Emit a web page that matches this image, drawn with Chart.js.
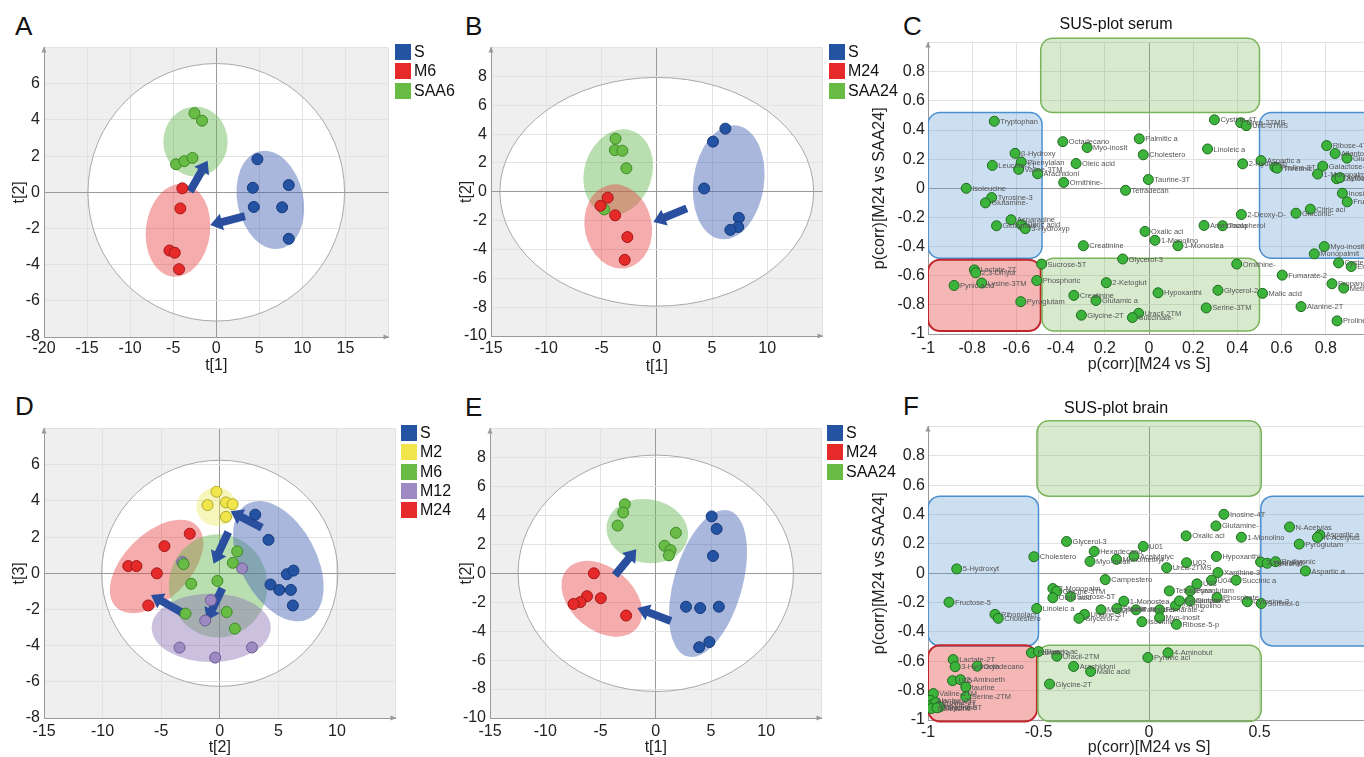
<!DOCTYPE html>
<html>
<head>
<meta charset="utf-8">
<script src="https://cdn.jsdelivr.net/npm/chart.js@4.4.1/dist/chart.umd.min.js"></script>
<style>
html, body { margin: 0; padding: 0; background: #fff; overflow: hidden; width: 1364px; height: 757px; }
body { position: relative; font-family: "Liberation Sans", Arial, sans-serif; color: #111; }
canvas { position: absolute; }
.letter { position: absolute; font-size: 26px; line-height: 26px; }
.legend { position: absolute; font-size: 16px; }
.legend div { height: 19.3px; line-height: 19px; white-space: nowrap; }
.legend span { display: inline-block; width: 16px; height: 16px; vertical-align: -3px; margin-right: 3px; }
</style>
</head>
<body>

<div class="letter" style="left:15px;top:13px">A</div>
<div class="letter" style="left:465px;top:13px">B</div>
<div class="letter" style="left:903px;top:13px">C</div>
<div class="letter" style="left:15px;top:393px">D</div>
<div class="letter" style="left:465px;top:394px">E</div>
<div class="letter" style="left:903px;top:393px">F</div>

<canvas id="chartA" width="395" height="346" style="left:0px;top:34px"></canvas>
<canvas id="chartB" width="379" height="346" style="left:450px;top:34px"></canvas>
<canvas id="chartC" width="574" height="365" style="left:862px;top:15px"></canvas>
<canvas id="chartD" width="402" height="345" style="left:0px;top:415px"></canvas>
<canvas id="chartE" width="378" height="345" style="left:450px;top:415px"></canvas>
<canvas id="chartF" width="574" height="361" style="left:862px;top:399px"></canvas>

<div class="legend" id="legA" style="left:395px;top:42px"></div>
<div class="legend" id="legB" style="left:829px;top:42px"></div>
<div class="legend" id="legD" style="left:401px;top:423px"></div>
<div class="legend" id="legE" style="left:827px;top:423px"></div>

<script>
// ---------- data: PCA score plots ----------
// A: serum, S / M6 / SAA6  (t[1], t[2])
const aS    = [[4.78, 1.83], [4.25, 0.25], [8.42, 0.40], [4.36, -0.81], [7.65, -0.83], [8.42, -2.57]];
const aM6   = [[-3.94, 0.22], [-4.17, -0.89], [-5.43, -3.22], [-4.82, -3.34], [-4.32, -4.25]];
const aSAA6 = [[-2.53, 4.37], [-1.65, 3.96], [-4.67, 1.55], [-3.71, 1.72], [-2.76, 1.90]];

// B: serum, S / M24 / SAA24
const bS     = [[6.21, 4.38], [5.09, 3.48], [4.29, 0.23], [7.43, -1.81], [7.37, -2.44], [6.66, -2.64]];
const bM24   = [[-4.44, -0.41], [-5.09, -0.97], [-3.76, -1.63], [-2.66, -3.14], [-2.90, -4.72]];
const bSAA24 = [[-3.73, 3.68], [-3.79, 2.89], [-3.11, 2.85], [-2.75, 1.63], [-4.76, -1.22]];

// D: brain, S / M2 / M6 / M12 / M24  (t[2], t[3])
const dS   = [[3.03, 3.24], [4.16, 1.85], [5.73, -0.05], [6.29, 0.15], [4.33, -0.62], [5.08, -0.92], [6.07, -0.92], [6.24, -1.78]];
const dM2  = [[-0.28, 4.51], [-1.04, 3.77], [0.53, 3.92], [1.10, 3.82], [0.53, 3.12]];
const dM6  = [[1.49, 1.21], [1.12, 0.58], [-3.09, 0.51], [-2.44, -0.58], [-0.20, -0.42], [-2.92, -2.23], [0.59, -2.14], [1.29, -3.06]];
const dM12 = [[-3.20, 0.62], [1.91, 0.27], [-0.76, -1.49], [-1.24, -2.61], [-3.43, -4.11], [-0.39, -4.66], [2.75, -4.10]];
const dM24 = [[-2.56, 2.19], [-4.72, 1.50], [-7.81, 0.40], [-7.11, 0.40], [-5.37, 0.00], [-6.10, -1.78]];

// E: brain, S / M24 / SAA24  (t[1], t[2])
const eS     = [[5.06, 3.93], [5.51, 3.07], [5.18, 1.20], [2.74, -2.31], [4.02, -2.40], [5.71, -2.31], [4.85, -4.75], [3.93, -5.11]];
const eM24   = [[-5.60, 0.00], [-6.22, -1.58], [-6.82, -1.99], [-7.44, -2.12], [-4.97, -1.72], [-2.68, -2.92]];
const eSAA24 = [[-2.80, 4.77], [-2.95, 4.20], [-3.45, 3.30], [1.82, 2.80], [0.80, 1.90], [1.34, 1.60], [1.19, 1.24]];

// arrows between group centres (tail, head)
const arrowsA = [[[3.33, -1.32], [-0.69, -1.81]], [[-3.06, 0.04], [-1.00, 1.75]]];
const arrowsB = [[[2.72, -1.15], [-0.30, -2.10]]];
const arrowsD = [[[3.60, 2.52], [0.93, 3.43]], [[0.73, 2.28], [-0.53, 0.53]], [[0.22, -0.83], [-1.10, -2.61]], [[-3.15, -2.19], [-5.87, -1.20]]];
const arrowsE = [[[-3.69, -0.14], [-1.76, 1.67]], [[1.37, -3.30], [-1.67, -2.40]]];

// ---------- data: SUS plots ----------
const serumNames = ['Tryptophan', 'Octadecano', 'Myo-inosit', 'Palmitic a', 'Cholestero', 'Cystine-4T', 'Urea-2TMS', 'Uric-5TMS',
  'Linoleic a', 'β-Hydroxy', 'Phenylalan', 'Leucine-2T', 'Valine-3TM', 'Arachidoni', 'Oleic acid', 'Ornithine-', 'Taurine-3T',
  'Tetradecan', '2-Hydroxyb', 'Aspartic a', 'Proline-3T', 'Threonic', 'Isoleucine', 'Tyrosine-3', 'Glutamine-', 'Asparagine',
  'Glutamate', 'Citric acid', '3-Hydroxyp', '2-Deoxy-D-', 'Aminomalo', 'Tocopherol', 'Oxalic aci', '1-Monolino', '1-Monostea',
  'Creatinine', 'Glycerol-3', 'Sucrose-5T', 'Ornithine-', 'Lactate-2T', '2,3-Dihydr', 'Pynic acid', 'Lysine-3TM', 'Phosphoric',
  '2-Ketoglut', 'Creatinine', 'Glutamic a', 'Pyroglutam', 'Hypoxanthi', 'Glycerol-2', 'Glycine-2T', 'Uracil-2TM', 'Succinate-',
  'Serine-3TM', 'Fumarate-2', 'Malic acid', 'Alanine-2T', 'Proline-2T', 'Ribose-4TM', 'Allantoin-', 'Glucuronic', 'Galactose-',
  '1-Monopalm', 'Lactose', 'Xylitol', 'Inositol', 'Fructose-5', 'Citric aci', 'Gluconic-', 'Myo-inosit', 'Monopalmit',
  'Cysteine-3', 'Erythritol', 'Propanoic', 'Methionine'];
const serumX = [-0.70, -0.39, -0.28, -0.044, -0.026, 0.296, 0.415, 0.44,
  0.265, -0.606, -0.578, -0.709, -0.59, -0.504, -0.33, -0.386, -0.003,
  -0.106, 0.424, 0.507, 0.57, 0.58, -0.827, -0.712, -0.74, -0.624,
  -0.69, -0.578, -0.56, 0.418, 0.249, 0.333, -0.018, 0.027, 0.131,
  -0.297, -0.119, -0.486, 0.397, -0.79, -0.784, -0.882, -0.757, -0.508,
  -0.193, -0.34, -0.24, -0.58, 0.041, 0.312, -0.306, -0.047, -0.075,
  0.259, 0.603, 0.514, 0.688, 0.851, 0.804, 0.842, 0.896, 0.786,
  0.763, 0.849, 0.864, 0.875, 0.897, 0.73, 0.665, 0.793, 0.748,
  0.858, 0.915, 0.828, 0.881];
const serumY = [0.46, 0.32, 0.28, 0.34, 0.23, 0.47, 0.45, 0.43,
  0.27, 0.24, 0.18, 0.157, 0.13, 0.10, 0.17, 0.04, 0.06,
  -0.014, 0.168, 0.19, 0.145, 0.138, 0.0, -0.064, -0.10, -0.216,
  -0.257, -0.25, -0.277, -0.18, -0.255, -0.257, -0.296, -0.357, -0.394,
  -0.394, -0.485, -0.52, -0.52, -0.56, -0.58, -0.667, -0.65, -0.633,
  -0.648, -0.735, -0.77, -0.778, -0.717, -0.70, -0.871, -0.858, -0.887,
  -0.821, -0.596, -0.721, -0.812, -0.91, 0.293, 0.239, 0.207, 0.152,
  0.098, 0.066, 0.073, -0.034, -0.093, -0.143, -0.171, -0.40, -0.45,
  -0.512, -0.537, -0.655, -0.685];

const brainNames = ['5-Hydroxyt', 'Fructose-5', 'Ribonolact', 'Cholestero', 'Cholestero', 'Glycerol-3', 'Hexadecano', 'Myo-inosit',
  'Monomethyl', 'Acetylglyc', 'U01', 'Campestero', '2-Monopalm', 'Glycine-3TM', 'Oleic acid', 'Sucrose-5T', 'Linoleic a',
  '1-Monostea', 'Uridine-3T', 'Glycerol-2', 'Monopalmit', 'Stearic ac', 'Palmitolei', 'Fumarate-2', 'Myo-inosit', 'Isocitric',
  'Ribose-5-p', '2-Aminolino', 'Glutamate', 'Tetradecan', 'Pyroglutam', 'Glutamine', 'U03', 'U04', 'Urea-2TMS', 'U02',
  'Oxalic aci', 'Glutamine-', 'Inosine-4T', '1-Monolino', 'Hypoxanthi', 'Xanthine-3', 'Succinic a', 'Phosphate', 'Cytosine-3',
  'Sorbitol-6', '3-Hydroxyb', 'Threonic', 'Erythronic', 'N-Acetylas', 'Aspartic a', 'N-Acetylas', 'Pyroglutam', 'Aspartic a',
  '4-Aminobut', 'Pyruvic aci', 'Palmitic a', 'Stearic ac', 'Uracil-2TM', 'Arachidoni', 'Malic acid', 'Glycine-2T', 'Lactate-2T',
  '3-Hydroxyb', 'Octadecano', 'U05', '2-Aminoeth', 'taurine', 'Serine-2TM', 'Valine-2TM', 'Alanine-2T', 'Leucine-2T',
  'Proline-2T', 'Glycine-3T', 'Isoleucine', 'Threonine'];
const brainX = [-0.87, -0.905, -0.697, -0.682, -0.521, -0.373, -0.248, -0.267,
  -0.147, -0.068, -0.026, -0.198, -0.435, -0.417, -0.435, -0.355, -0.508,
  -0.114, -0.292, -0.317, -0.217, -0.145, -0.059, 0.048, 0.048, -0.032,
  0.124, 0.12, 0.138, 0.092, 0.186, 0.186, 0.217, 0.283, 0.08, 0.17,
  0.168, 0.303, 0.339, 0.418, 0.305, 0.312, 0.394, 0.308, 0.445,
  0.508, 0.505, 0.535, 0.573, 0.636, 0.773, 0.762, 0.68, 0.708,
  0.086, -0.005, -0.532, -0.50, -0.417, -0.341, -0.264, -0.45, -0.886,
  -0.877, -0.777, -0.889, -0.853, -0.829, -0.829, -0.976, -0.989, -0.98,
  -0.965, -0.947, -0.985, -0.959];
const brainY = [0.03, -0.197, -0.28, -0.307, 0.113, 0.217, 0.149, 0.081,
  0.095, 0.117, 0.183, -0.043, -0.104, -0.122, -0.167, -0.158, -0.24,
  -0.19, -0.28, -0.307, -0.249, -0.24, -0.249, -0.249, -0.303, -0.33,
  -0.348, -0.221, -0.188, -0.12, -0.12, -0.188, -0.072, -0.047, 0.038, 0.072,
  0.255, 0.323, 0.402, 0.246, 0.115, 0.005, -0.047, -0.165, -0.194,
  -0.206, 0.077, 0.068, 0.079, 0.316, 0.262, 0.244, 0.199, 0.016,
  -0.542, -0.574, -0.542, -0.533, -0.565, -0.635, -0.669, -0.755, -0.588,
  -0.637, -0.633, -0.732, -0.725, -0.775, -0.84, -0.82, -0.866, -0.895,
  -0.881, -0.911, -0.922, -0.917];

// ---------- tick labels ----------
const ticksX20 = ['-20', '-15', '-10', '-5', '0', '5', '10', '15'];
const ticksX15 = ['-15', '-10', '-5', '0', '5', '10'];
const ticksY8 = ['-8', '-6', '-4', '-2', '0', '2', '4', '6'];
const ticksY10 = ['-10', '-8', '-6', '-4', '-2', '0', '2', '4', '6', '8'];
const ticksSerumX = ['-1', '-0.8', '-0.6', '-0.4', '0.2', '0', '0.2', '0.4', '0.6', '0.8'];
const ticksBrainX = ['-1', '-0.5', '0', '0.5'];
const ticksCorrY = ['-1', '-0.8', '-0.6', '-0.4', '-0.2', '0', '0.2', '0.4', '0.6', '0.8'];

// ---------- styles ----------
const FONT = '"Liberation Sans", Arial, sans-serif';
const PT = {
    S:   { fill: '#2453a4', line: '#17397a', area: 'rgba(72,101,180,0.47)' },
    RED: { fill: '#e62a2a', line: '#a31818', area: 'rgba(232,70,70,0.45)' },
    GRN: { fill: '#68bc45', line: '#3e8a28', area: 'rgba(100,185,80,0.45)' },
    YEL: { fill: '#f0e64c', line: '#b2aa2a', area: 'rgba(235,232,90,0.40)' },
    PUR: { fill: '#9d8ac2', line: '#6c5c92', area: 'rgba(140,115,180,0.45)' }
};
const ARROW = '#2a4f9f';

// overlays for every panel (shapes in data units)
const overlays = {
    chartA: {
        bg: '#efefef', hotelling: { cx: 0, cy: 0, rx: 14.9, ry: 7.12 }, arrows: arrowsA,
        ellipses: [
            { cx: -2.41, cy: 2.80, rx: 3.73, ry: 1.94, rot: 0, fill: PT.GRN.area },
            { cx: -4.44, cy: -2.10, rx: 3.73, ry: 2.58, rot: 7, fill: PT.RED.area },
            { cx: 6.28, cy: -0.42, rx: 3.83, ry: 2.75, rot: -12, fill: PT.S.area }
        ]
    },
    chartB: {
        bg: '#efefef', hotelling: { cx: 0, cy: 0, rx: 14.2, ry: 7.93 }, arrows: arrowsB,
        ellipses: [
            { cx: -3.49, cy: 1.36, rx: 3.06, ry: 3.03, rot: 18, fill: PT.GRN.area },
            { cx: -3.49, cy: -2.40, rx: 3.03, ry: 2.94, rot: -12, fill: PT.RED.area },
            { cx: 6.51, cy: 0.66, rx: 3.2, ry: 3.98, rot: 8, fill: PT.S.area }
        ]
    },
    chartD: {
        bg: '#efefef', hotelling: { cx: 0, cy: 0, rx: 10.08, ry: 6.25 }, arrows: arrowsD,
        ellipses: [
            { cx: -5.39, cy: 0.38, rx: 2.81, ry: 3.17, rot: 45, fill: PT.RED.area },
            { cx: -0.14, cy: -0.69, rx: 4.2, ry: 2.85, rot: 0, fill: PT.GRN.area },
            { cx: 5.0, cy: 0.67, rx: 3.23, ry: 3.6, rot: -28, fill: PT.S.area },
            { cx: -0.73, cy: -3.01, rx: 5.08, ry: 1.9, rot: 0, fill: PT.PUR.area },
            { cx: -0.28, cy: 3.68, rx: 1.71, ry: 1.07, rot: 0, fill: PT.YEL.area }
        ]
    },
    chartE: {
        bg: '#efefef', hotelling: { cx: 0, cy: 0, rx: 12.46, ry: 8.17 }, arrows: arrowsE,
        ellipses: [
            { cx: -0.77, cy: 2.92, rx: 3.72, ry: 2.2, rot: 10, fill: PT.GRN.area },
            { cx: -4.88, cy: -1.76, rx: 2.83, ry: 3.16, rot: -50, fill: PT.RED.area },
            { cx: 4.73, cy: -0.70, rx: 3.1, ry: 5.24, rot: 16, fill: PT.S.area }
        ]
    },
    chartC: {
        names: serumNames,
        boxes: [
            { x0: -0.49, x1: 0.50, y0: 0.52, y1: 1.03, kind: 'green' },
            { x0: -1.0, x1: -0.484, y0: -0.48, y1: 0.52, kind: 'blue' },
            { x0: 0.50, x1: 1.06, y0: -0.48, y1: 0.52, kind: 'blue' },
            { x0: -1.0, x1: -0.49, y0: -0.98, y1: -0.49, kind: 'red' },
            { x0: -0.484, x1: 0.50, y0: -0.98, y1: -0.48, kind: 'green' }
        ]
    },
    chartF: {
        names: brainNames,
        boxes: [
            { x0: -0.507, x1: 0.508, y0: 0.526, y1: 1.04, kind: 'green' },
            { x0: -1.0, x1: -0.5, y0: -0.495, y1: 0.526, kind: 'blue' },
            { x0: 0.506, x1: 1.06, y0: -0.495, y1: 0.526, kind: 'blue' },
            { x0: -1.0, x1: -0.507, y0: -1.01, y1: -0.49, kind: 'red' },
            { x0: -0.503, x1: 0.508, y0: -1.01, y1: -0.49, kind: 'green' }
        ]
    }
};
const BOX = {
    green: { fill: 'rgba(112,178,80,0.28)', line: '#7ab35a' },
    blue:  { fill: 'rgba(95,155,212,0.32)', line: '#4a8fd0' },
    red:   { fill: 'rgba(232,80,80,0.42)', line: '#c0262b' }
};

// ---------- drawing helpers ----------
function ellipsePath(ctx, x, y, e) {
    const cx = x.getPixelForValue(e.cx), cy = y.getPixelForValue(e.cy);
    const rx = Math.abs(x.getPixelForValue(e.cx + e.rx) - cx);
    const ry = Math.abs(y.getPixelForValue(e.cy + e.ry) - cy);
    ctx.beginPath();
    ctx.ellipse(cx, cy, rx, ry, (e.rot || 0) * Math.PI / 180, 0, Math.PI * 2);
}

function drawArrow(ctx, x, y, a) {
    const x1 = x.getPixelForValue(a[0][0]), y1 = y.getPixelForValue(a[0][1]);
    const x2 = x.getPixelForValue(a[1][0]), y2 = y.getPixelForValue(a[1][1]);
    const len = Math.hypot(x2 - x1, y2 - y1);
    const sw = 4, hw = 8.5, hl = 12;
    ctx.save();
    ctx.translate(x1, y1);
    ctx.rotate(Math.atan2(y2 - y1, x2 - x1));
    ctx.beginPath();
    ctx.moveTo(0, -sw); ctx.lineTo(len - hl, -sw); ctx.lineTo(len - hl, -hw);
    ctx.lineTo(len, 0); ctx.lineTo(len - hl, hw); ctx.lineTo(len - hl, sw); ctx.lineTo(0, sw);
    ctx.closePath();
    ctx.fillStyle = ARROW;
    ctx.fill();
    ctx.restore();
}

const overlayPlugin = {
    id: 'overlay',
    beforeDraw(chart) {
        const o = overlays[chart.canvas.id];
        if (!o) return;
        const { ctx, chartArea: a, scales: { x, y } } = chart;
        ctx.save();
        ctx.fillStyle = o.bg || '#fff';
        ctx.fillRect(a.left, a.top, a.right - a.left, a.bottom - a.top);
        if (o.hotelling) {
            ellipsePath(ctx, x, y, o.hotelling);
            ctx.fillStyle = '#fff';
            ctx.fill();
        }
        ctx.restore();
    },
    beforeDatasetsDraw(chart) {
        const o = overlays[chart.canvas.id];
        if (!o) return;
        const { ctx, chartArea: a, scales: { x, y } } = chart;
        ctx.save();
        ctx.beginPath();
        ctx.rect(a.left, a.top - 10, a.right - a.left + 20, a.bottom - a.top + 14);
        ctx.clip();
        if (o.hotelling) {
            ellipsePath(ctx, x, y, o.hotelling);
            ctx.strokeStyle = '#a9a9a9';
            ctx.lineWidth = 1;
            ctx.stroke();
        }
        (o.boxes || []).forEach(b => {
            const px0 = x.getPixelForValue(b.x0), px1 = x.getPixelForValue(b.x1);
            const py0 = y.getPixelForValue(b.y1), py1 = y.getPixelForValue(b.y0);
            ctx.beginPath();
            ctx.roundRect(px0, py0, px1 - px0, py1 - py0, 12);
            ctx.fillStyle = BOX[b.kind].fill;
            ctx.fill();
            ctx.strokeStyle = BOX[b.kind].line;
            ctx.lineWidth = b.kind === 'red' ? 2 : 1.5;
            ctx.stroke();
        });
        (o.ellipses || []).forEach(e => {
            ellipsePath(ctx, x, y, e);
            ctx.fillStyle = e.fill;
            ctx.fill();
        });
        (o.arrows || []).forEach(ar => drawArrow(ctx, x, y, ar));
        ctx.restore();
    },
    afterDatasetsDraw(chart) {
        const o = overlays[chart.canvas.id];
        if (!o || !o.names) return;
        const { ctx } = chart;
        const pts = chart.getDatasetMeta(0).data;
        ctx.save();
        ctx.font = '7.5px ' + FONT;
        ctx.fillStyle = '#555';
        ctx.textBaseline = 'middle';
        pts.forEach((p, i) => ctx.fillText(o.names[i], p.x + 6, p.y + 0.5));
        ctx.restore();
    },
    afterDraw(chart) {
        const { ctx, chartArea: a } = chart;
        ctx.save();
        ctx.fillStyle = '#9a9a9a';
        ctx.beginPath();
        ctx.moveTo(a.left - 2.5, a.top + 5); ctx.lineTo(a.left, a.top - 1); ctx.lineTo(a.left + 2.5, a.top + 5);
        ctx.fill();
        ctx.beginPath();
        ctx.moveTo(a.right - 5, a.bottom - 2.5); ctx.lineTo(a.right + 1, a.bottom); ctx.lineTo(a.right - 5, a.bottom + 2.5);
        ctx.fill();
        ctx.restore();
    }
};
Chart.register(overlayPlugin);

function axis(ax, kind) {
    return {
        type: 'linear',
        position: kind === 'x' ? 'bottom' : 'left',
        min: ax.min,
        max: ax.max,
        afterFit: s => { if (kind === 'x') s.height = ax.size; else s.width = ax.size; },
        ticks: {
            stepSize: ax.step, autoSkip: false, maxRotation: 0, padding: ax.tickPad,
            color: '#222', font: { size: 16, family: FONT },
            callback: (v, i) => ax.labels[i] !== undefined ? ax.labels[i] : ''
        },
        grid: {
            drawTicks: false, lineWidth: 1,
            color: c => (c.tick && Math.abs(c.tick.value) < 1e-9) ? '#9a9a9a' : '#e2e2e2'
        },
        border: { color: '#9a9a9a' },
        title: {
            display: true, text: ax.title, color: '#222', font: { size: 16, family: FONT },
            padding: kind === 'x' ? { top: 0, bottom: ax.titlePad } : { top: ax.titlePad, bottom: 0 }
        }
    };
}

function makeChart(id, p) {
    new Chart(document.getElementById(id), {
        type: 'scatter',
        data: {
            datasets: p.sets.map(s => ({
                data: s.pts.map(q => ({ x: q[0], y: q[1] })),
                backgroundColor: s.style.fill,
                borderColor: s.style.line,
                borderWidth: 1,
                pointRadius: p.r,
                pointHoverRadius: p.r
            }))
        },
        options: {
            responsive: false,
            animation: false,
            devicePixelRatio: 1,
            layout: { padding: { top: p.padTop, right: p.padRight, left: 0, bottom: 0 } },
            plugins: {
                legend: { display: false },
                tooltip: { enabled: false },
                title: p.title
                    ? { display: true, text: p.title, color: '#111', font: { size: 16, family: FONT, weight: 'normal' }, padding: { top: 0, bottom: 8.4 } }
                    : { display: false }
            },
            scales: { x: axis(p.x, 'x'), y: axis(p.y, 'y') }
        }
    });
}

function zipXY(xs, ys) { return xs.map((v, i) => [v, ys[i]]); }

makeChart('chartA', {
    r: 5.5, padTop: 8, padRight: 2,
    sets: [{ pts: aS, style: PT.S }, { pts: aM6, style: PT.RED }, { pts: aSAA6, style: PT.GRN }],
    x: { min: -20, max: 20, step: 5, labels: ticksX20, size: 43, tickPad: 2.4, title: 't[1]', titlePad: 4.4 },
    y: { min: -8, max: 8, step: 2, labels: ticksY8, size: 44, tickPad: 4, title: 't[2]', titlePad: 10.4 }
});
makeChart('chartB', {
    r: 5.5, padTop: 8, padRight: 2,
    sets: [{ pts: bS, style: PT.S }, { pts: bM24, style: PT.RED }, { pts: bSAA24, style: PT.GRN }],
    x: { min: -15, max: 15, step: 5, labels: ticksX15, size: 44, tickPad: 3.4, title: 't[1]', titlePad: 3.4 },
    y: { min: -10, max: 10, step: 2, labels: ticksY10, size: 41, tickPad: 4, title: 't[2]', titlePad: 7.4 }
});
makeChart('chartC', {
    r: 5, padTop: 0, padRight: 66, title: 'SUS-plot serum',
    sets: [{ pts: zipXY(serumX, serumY), style: { fill: '#3cb43c', line: '#1f6a1f' } }],
    x: { min: -1, max: 1, step: 0.2, labels: ticksSerumX, size: 46, tickPad: 5.4, title: 'p(corr)[M24 vs S]', titlePad: 5.4 },
    y: { min: -1, max: 1, step: 0.2, labels: ticksCorrY, size: 66, tickPad: 3, title: 'p(corr)[M24 vs SAA24]', titlePad: 8.4 }
});
makeChart('chartD', {
    r: 5.5, padTop: 8, padRight: 2,
    sets: [{ pts: dS, style: PT.S }, { pts: dM2, style: PT.YEL }, { pts: dM6, style: PT.GRN },
           { pts: dM12, style: PT.PUR }, { pts: dM24, style: PT.RED }],
    x: { min: -15, max: 15, step: 5, labels: ticksX15, size: 42, tickPad: 4.4, title: 't[2]', titlePad: 2.4 },
    y: { min: -8, max: 8, step: 2, labels: ticksY8, size: 44, tickPad: 4, title: 't[3]', titlePad: 10.4 }
});
makeChart('chartE', {
    r: 5.5, padTop: 8, padRight: 2,
    sets: [{ pts: eS, style: PT.S }, { pts: eM24, style: PT.RED }, { pts: eSAA24, style: PT.GRN }],
    x: { min: -15, max: 15, step: 5, labels: ticksX15, size: 42, tickPad: 4.1, title: 't[1]', titlePad: 2.7 },
    y: { min: -10, max: 10, step: 2, labels: ticksY10, size: 40, tickPad: 4, title: 't[2]', titlePad: 7.4 }
});
makeChart('chartF', {
    r: 5, padTop: 0, padRight: 66, title: 'SUS-plot brain',
    sets: [{ pts: zipXY(brainX, brainY), style: { fill: '#3cb43c', line: '#1f6a1f' } }],
    x: { min: -1, max: 1, step: 0.5, labels: ticksBrainX, size: 40, tickPad: 3.4, title: 'p(corr)[M24 vs S]', titlePad: 2.4 },
    y: { min: -1, max: 1, step: 0.2, labels: ticksCorrY, size: 66, tickPad: 3, title: 'p(corr)[M24 vs SAA24]', titlePad: 8.4 }
});

// ---------- legends ----------
function legend(id, items) {
    document.getElementById(id).innerHTML = items
        .map(it => `<div><span style="background:${it[1]}"></span>${it[0]}</div>`).join('');
}
legend('legA', [['S', PT.S.fill], ['M6', PT.RED.fill], ['SAA6', PT.GRN.fill]]);
legend('legB', [['S', PT.S.fill], ['M24', PT.RED.fill], ['SAA24', PT.GRN.fill]]);
legend('legD', [['S', PT.S.fill], ['M2', PT.YEL.fill], ['M6', PT.GRN.fill], ['M12', PT.PUR.fill], ['M24', PT.RED.fill]]);
legend('legE', [['S', PT.S.fill], ['M24', PT.RED.fill], ['SAA24', PT.GRN.fill]]);
</script>
</body>
</html>
